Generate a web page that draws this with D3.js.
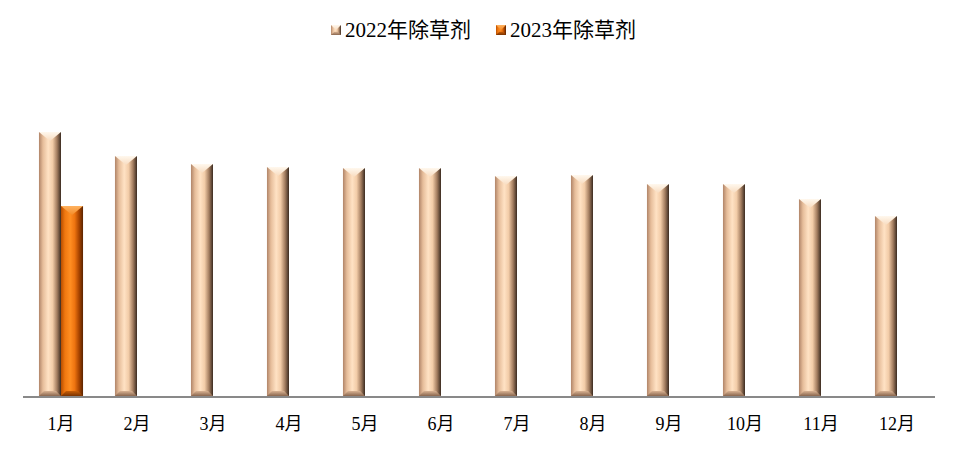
<!DOCTYPE html>
<html>
<head>
<meta charset="utf-8">
<script src="https://cdn.jsdelivr.net/npm/d3@7"></script>
<style>
  body { margin: 0; background: #fff; }
  text { font-family: "Liberation Serif", "Noto Sans CJK SC", serif; fill: #000; }
</style>
</head>
<body>
<div id="chart"></div>
<script>
// chart data (arbitrary units)
const months = ["1月", "2月", "3月", "4月", "5月", "6月", "7月", "8月", "9月", "10月", "11月", "12月"];
const seriesNames = ["2022年除草剂", "2023年除草剂"];
const values2022 = [264, 240, 232, 229, 228, 228, 220, 221, 212, 212, 197, 180];
const values2023 = [190, null, null, null, null, null, null, null, null, null, null, null];

const width = 958, height = 449;
const svg = d3.select("#chart").append("svg")
    .attr("width", width)
    .attr("height", height);

const x = d3.scaleBand()
    .domain(months)
    .range([23, 935])
    .paddingInner(0.42)
    .paddingOuter(0.21);

const xs = d3.scaleBand()
    .domain(seriesNames)
    .range([0, x.bandwidth()]);

const y = d3.scaleLinear()
    .domain([0, 264])
    .range([396, 132]);

// gradients for the bevelled bars
const defs = svg.append("defs");
const palettes = [
    { body: ["#b08468", "#e6bd9a", "#ffe2c4", "#f2cca8", "#a37d60", "#3b2b20"],
      top: ["#fff8ee", "#f8dcc0"], bottom: ["#8a664e", "#d9b393"] },
    { body: ["#b84e00", "#f07810", "#ff8e22", "#ee7410", "#a84400", "#5a2400"],
      top: ["#ffb260", "#f48c28"], bottom: ["#7a3300", "#c85e08"] }
];
palettes.forEach(function (p, i) {
    const g = defs.append("linearGradient").attr("id", "body" + i)
        .attr("x1", 0).attr("x2", 1).attr("y1", 0).attr("y2", 0);
    [0, 0.18, 0.42, 0.62, 0.82, 1].forEach(function (o, k) {
        g.append("stop").attr("offset", o).attr("stop-color", p.body[k]);
    });
    const t = defs.append("linearGradient").attr("id", "top" + i)
        .attr("x1", 0).attr("x2", 0).attr("y1", 0).attr("y2", 1);
    t.append("stop").attr("offset", 0).attr("stop-color", p.top[0]);
    t.append("stop").attr("offset", 1).attr("stop-color", p.top[1]);
    const b = defs.append("linearGradient").attr("id", "bot" + i)
        .attr("x1", 0).attr("x2", 0).attr("y1", 1).attr("y2", 0);
    b.append("stop").attr("offset", 0).attr("stop-color", p.bottom[0]);
    b.append("stop").attr("offset", 1).attr("stop-color", p.bottom[1]);
});

// draws one bevelled block
function bevel(sel, x0, y0, w, h, i) {
    const bv = Math.min(w / 2, 9);
    const bb = Math.min(5, w / 3);
    sel.append("rect")
        .attr("x", x0).attr("y", y0)
        .attr("width", w).attr("height", h)
        .attr("fill", "url(#body" + i + ")");
    sel.append("path")
        .attr("d", "M" + x0 + "," + y0 + "L" + (x0 + w) + "," + y0 +
            "L" + (x0 + w / 2) + "," + (y0 + bv) + "Z")
        .attr("fill", "url(#top" + i + ")");
    sel.append("path")
        .attr("d", "M" + x0 + "," + (y0 + h) + "L" + (x0 + w) + "," + (y0 + h) +
            "L" + (x0 + w - bb) + "," + (y0 + h - bb) + "L" + (x0 + bb) + "," + (y0 + h - bb) + "Z")
        .attr("fill", "url(#bot" + i + ")");
}

const series = [values2022, values2023];
series.forEach(function (vals, i) {
    const g = svg.append("g");
    vals.forEach(function (v, j) {
        if (v == null) return;
        bevel(g, x(months[j]) + xs(seriesNames[i]), y(v), xs.bandwidth(), y(0) - y(v), i);
    });
});

// baseline
svg.append("line")
    .attr("x1", 23).attr("x2", 935)
    .attr("y1", y(0) + 1).attr("y2", y(0) + 1)
    .attr("stroke", "#898989")
    .attr("stroke-width", 2);

// month labels
svg.append("g").selectAll("text")
    .data(months)
    .join("text")
    .attr("x", d => x(d) + x.bandwidth() / 2)
    .attr("y", 430)
    .attr("text-anchor", "middle")
    .style("font-size", "18px")
    .text(d => d);

// legend
const legendX = [331, 496];
seriesNames.forEach(function (name, i) {
    const lg = svg.append("g");
    bevel(lg, legendX[i], 25, 10, 10, i);
    lg.append("text")
        .attr("x", legendX[i] + 14)
        .attr("y", 37)
        .style("font-size", "21px")
        .text(name);
});
</script>
</body>
</html>
